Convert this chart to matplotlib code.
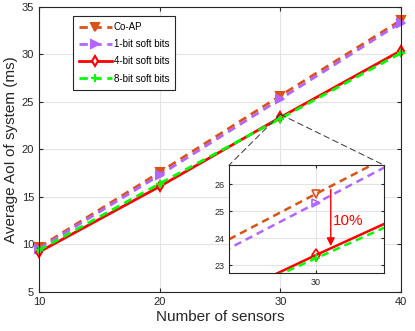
import matplotlib
matplotlib.use("Agg")
import matplotlib.pyplot as plt
from matplotlib.patches import ConnectionPatch

plt.rcParams['font.family'] = ['Liberation Sans', 'DejaVu Sans']

sensors = [10, 20, 30, 40]
co_ap = [9.7, 17.6, 25.65, 33.6]
soft1 = [9.55, 17.3, 25.3, 33.35]
soft4 = [9.2, 16.1, 23.37, 30.4]
soft8 = [9.4, 16.4, 23.25, 30.15]

names = ['Co-AP', '1-bit soft bits', '4-bit soft bits', '8-bit soft bits']
colors = ['#D95319', '#B266FF', '#FF0000', '#00FF00']
styles = ['--', '--', '-', '--']
markers = ['v', '>', 'd', '+']
faces = ['#D95319', '#B266FF', 'white', '#00FF00']
series = [co_ap, soft1, soft4, soft8]

fig = plt.figure(figsize=(4.15, 3.31), dpi=100)
ax = fig.add_axes([0.094, 0.118, 0.872, 0.861])

for ys, nm, c, ls, mk, fc in zip(series, names, colors, styles, markers, faces):
    ax.plot(sensors, ys, ls, color=c, lw=2.0, marker=mk, ms=5.5,
            mfc=fc, mec=c, mew=1.5, label=nm, clip_on=False,
            dashes=(3, 2) if ls == '--' else (None, None))

ax.set_xlim(10, 40)
ax.set_ylim(5, 35)
ax.set_xticks(sensors)
ax.set_yticks(range(5, 36, 5))
ax.grid(True, color='#E3E3E3', lw=0.8)
ax.tick_params(direction='in', top=True, right=True, labelsize=8, length=3,
               color='#262626', labelcolor='#262626')
for s in ax.spines.values():
    s.set_color('#262626')
    s.set_linewidth(0.8)
ax.set_xlabel('Number of sensors', fontsize=11, color='#262626', labelpad=2)
ax.set_ylabel('Average AoI of system (ms)', fontsize=11, color='#262626', labelpad=3)

leg = ax.legend(loc='upper left', bbox_to_anchor=(0.094, 0.968), borderaxespad=0,
                fontsize=7, handlelength=3.4, fancybox=False, framealpha=1,
                edgecolor='#262626', borderpad=0.6, labelspacing=0.75, handletextpad=0.2)
leg.get_frame().set_linewidth(0.8)

ins = fig.add_axes([0.552, 0.175, 0.3735, 0.326])
for ys, c, ls, mk, fc in zip(series, colors, styles, markers, faces):
    ins.plot(sensors, ys, ls, color=c, lw=1.8, marker=mk, ms=6,
             mfc='none', mec=c, mew=1.2, dashes=(3, 2) if ls == '--' else (None, None))
ins.set_xlim(27.9, 31.65)
ins.set_ylim(22.7, 26.72)
ins.set_xticks([30])
ins.set_yticks([23, 24, 25, 26])
ins.grid(True, color='#E3E3E3', lw=0.8)
ins.tick_params(direction='in', top=True, right=True, labelsize=6.5, length=2.5,
                color='#262626', labelcolor='#262626')
for s in ins.spines.values():
    s.set_color('#262626')
    s.set_linewidth(0.8)

ins.annotate('', xy=(30.36, 23.6), xytext=(30.36, 25.92),
             arrowprops=dict(arrowstyle='-|>', color='red', lw=1.0,
                             mutation_scale=12))
ins.text(30.42, 24.65, '10%', color='red', fontsize=11, va='center')

for corner in [(0, 1), (1, 1)]:
    con = ConnectionPatch(xyA=(30, 23.7), coordsA=ax.transData,
                          xyB=corner, coordsB=ins.transAxes,
                          color='#333333', lw=0.7, ls=(0, (6, 4)))
    fig.add_artist(con)

fig.savefig('out.png', dpi=100)
